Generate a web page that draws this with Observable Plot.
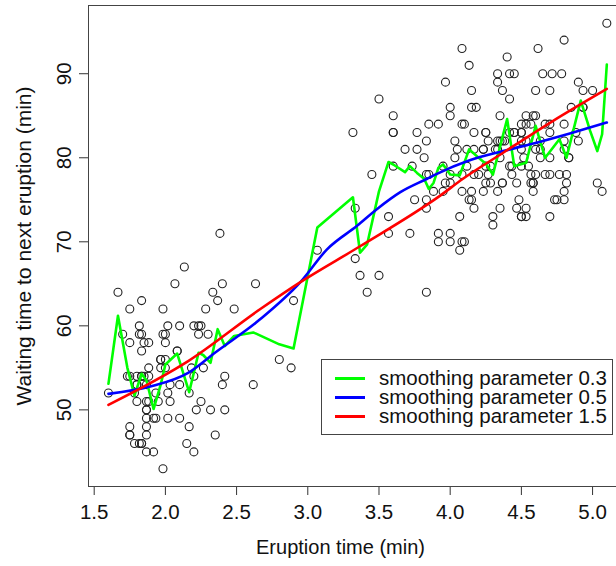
<!DOCTYPE html>
<html>
<head>
<meta charset="utf-8">
<script src="https://cdn.jsdelivr.net/npm/d3@7"></script>
<script src="https://cdn.jsdelivr.net/npm/@observablehq/plot@0.6"></script>
<style>
  html, body { margin: 0; padding: 0; background: #fff; }
  #wrap { position: relative; width: 616px; height: 566px; font-family: "Liberation Sans", Arial, Helvetica, sans-serif; }
  #legend { position: absolute; left: 321px; top: 359px; width: 290px; height: 74px; border: 1px solid #444; background: #fff; box-sizing: content-box; }
  .row { position: absolute; left: 0; height: 19px; line-height: 19px; font-size: 20.5px; color: #111; white-space: nowrap; }
  .sw { position: absolute; left: 13px; top: 9px; width: 30px; height: 2.6px; }
  .lab { position: absolute; left: 57px; top: 0; }
</style>
</head>
<body>
<div id="wrap"></div>
<script>
// Old Faithful: eruption time (min) and waiting time to next eruption (min)
const eruptions = [
3.600,1.800,3.333,2.283,4.533,2.883,4.700,3.600,1.950,4.350,
1.833,3.917,4.200,1.750,4.700,2.167,1.750,4.800,1.600,4.250,
1.800,1.750,3.450,3.067,4.533,3.600,1.967,4.083,3.850,4.433,
4.300,4.467,3.367,4.033,3.833,2.017,1.867,4.833,1.833,4.783,
4.350,1.883,4.567,1.750,4.533,3.317,3.833,2.100,4.633,2.000,
4.800,4.716,1.833,4.833,1.733,4.883,3.717,1.667,4.567,4.317,
2.233,4.500,1.750,4.800,1.817,4.400,4.167,4.700,2.067,4.700,
4.033,1.967,4.500,4.000,1.983,5.067,2.017,4.567,3.883,3.600,
4.133,4.333,4.100,2.633,4.067,4.933,3.950,4.517,2.167,4.000,
2.200,4.333,1.867,4.817,1.833,4.300,4.667,3.750,1.867,4.900,
2.483,4.367,2.100,4.500,4.050,1.867,4.700,1.783,4.850,3.683,
4.733,2.300,4.900,4.417,1.700,4.633,2.317,4.600,1.817,4.417,
2.617,4.067,4.250,1.967,4.600,3.767,1.917,4.500,2.267,4.650,
1.867,4.167,2.800,4.333,1.833,4.383,1.883,4.933,2.033,3.733,
4.233,2.233,4.533,4.817,4.333,1.983,4.633,2.017,5.100,1.800,
5.033,4.000,2.400,4.600,3.567,4.000,4.500,4.083,1.800,3.967,
2.200,4.150,2.000,3.833,3.500,4.583,2.367,5.000,1.933,4.617,
1.917,2.083,4.583,3.333,4.167,4.333,4.500,2.417,4.000,4.167,
1.883,4.583,4.250,3.767,2.033,4.433,4.083,1.833,4.417,2.183,
4.800,1.833,4.800,4.100,3.966,4.233,3.500,4.366,2.250,4.667,
2.100,4.350,4.133,1.867,4.600,1.783,4.367,3.850,1.933,4.500,
2.383,4.700,1.867,3.833,3.417,4.233,2.400,4.800,2.000,4.150,
1.867,4.267,1.750,4.483,4.000,4.117,4.083,4.267,3.917,4.550,
4.083,2.417,4.183,2.217,4.450,1.883,1.850,4.283,3.950,2.333,
4.150,2.350,4.933,2.900,4.583,3.833,2.083,4.367,2.133,4.350,
2.200,4.450,3.567,4.500,4.150,3.817,3.917,4.450,2.000,4.283,
4.767,4.533,1.850,4.250,1.983,2.250,4.750,4.117,2.150,4.417,
1.817,4.467];
const waiting = [
79,54,74,62,85,55,88,85,51,85,
54,84,78,47,83,52,62,84,52,79,
51,47,78,69,74,83,55,76,78,79,
73,77,66,80,74,52,48,80,59,90,
80,58,84,58,73,83,64,53,82,59,
75,90,54,80,54,83,71,64,77,81,
59,84,48,82,60,92,78,78,65,73,
82,56,79,71,62,76,60,78,76,83,
75,82,70,65,73,88,76,80,48,86,
60,90,50,78,63,72,84,75,51,82,
62,88,49,83,81,47,84,52,86,81,
75,59,89,79,59,81,50,85,59,87,
53,69,77,56,88,81,45,82,55,90,
45,83,56,89,46,82,51,86,53,79,
81,60,82,77,76,59,80,49,96,53,
77,77,65,81,71,70,81,93,53,89,
45,86,58,78,66,76,63,88,52,93,
49,57,77,68,81,81,73,50,85,74,
55,77,83,83,51,78,84,46,83,55,
81,57,76,84,77,81,87,77,51,78,
60,82,91,53,78,46,77,84,49,83,
71,80,49,75,64,76,53,94,55,76,
50,82,54,75,78,79,78,78,70,79,
70,54,86,50,90,54,54,77,79,64,
75,47,86,63,85,82,57,82,67,74,
54,83,73,73,88,80,71,83,56,79,
78,84,58,83,43,60,75,81,46,90,
46,74];

// Smoothed curves
const green03X = [1.600,1.667,1.733,1.783,1.833,1.867,1.917,1.967,2.000,2.083,2.167,2.233,2.267,2.317,2.367,2.417,2.483,2.617,2.633,2.800,2.900,3.067,3.317,3.367,3.417,3.500,3.567,3.600,3.683,3.717,3.767,3.817,3.850,3.883,3.917,3.950,4.000,4.067,4.133,4.200,4.250,4.300,4.400,4.450,4.533,4.600,4.667,4.767,4.817,4.917,4.983,5.033,5.067,5.100];
const green03Y = [53.1,61.2,55.0,51.7,54.3,53.5,50.1,53.0,55.4,56.7,52.1,56.8,56.5,55.6,59.6,57.6,58.8,59.2,59.1,57.8,57.3,71.7,75.3,68.7,69.7,76.0,79.5,79.2,78.3,79.0,78.2,77.5,76.3,77.0,78.8,79.2,78.0,77.9,81.0,80.0,79.3,78.0,84.6,79.0,79.4,83.8,80.0,82.2,80.0,86.8,83.2,80.8,82.8,91.1];
const blue05X = [1.600,1.900,2.160,2.348,2.667,2.948,3.135,3.346,3.487,3.650,3.838,3.903,4.137,4.372,4.606,4.840,5.100];
const blue05Y = [51.9,52.8,54.4,56.8,60.8,65.2,69.1,71.9,73.9,75.9,77.5,78.05,79.7,80.8,81.8,82.9,84.2];
const red15X = [1.600,2.160,2.667,2.948,3.370,3.930,4.090,4.372,4.723,5.100];
const red15Y = [50.6,55.8,62.0,65.2,69.5,75.5,77.5,80.6,84.4,88.2];

const xTicks = [1.5,2.0,2.5,3.0,3.5,4.0,4.5,5.0];
const yTicks = [50,60,70,80,90];
const xTitle = "Eruption time (min)";
const yTitle = "Waiting time to next eruption (min)";
const seriesNames = ["smoothing parameter 0.3","smoothing parameter 0.5","smoothing parameter 1.5"];
const seriesColors = ["#00ff00","#0000ff","#ff0000"];

const points = eruptions.map((e,i)=>({x:e, y:waiting[i]}));
const mk = (xs, ys) => xs.map((x,i)=>({x, y: ys[i]}));
const gData = mk(green03X, green03Y), bData = mk(blue05X, blue05Y), rData = mk(red15X, red15Y);

const chart = Plot.plot({
  width: 616, height: 566,
  marginLeft: 88, marginRight: 0, marginTop: 5, marginBottom: 80,
  x: {domain: [1.46, 5.168]},
  y: {domain: [40.88, 98.12]},
  style: {fontFamily: '"Liberation Sans", Arial, Helvetica, sans-serif', fontSize: "20px", color: "#111", background: "#fff", overflow: "visible"},
  marks: [
    Plot.axisX({ticks: xTicks, tickSize: 9, tickPadding: 9, tickFormat: d => d.toFixed(1), label: null, stroke: "#333", fill: "#111", fontSize: 20.5}),
    Plot.axisY({ticks: yTicks, tickSize: 9, tickPadding: 9, tickRotate: -90, label: null, stroke: "#333", fill: "#111", fontSize: 20.5}),
    Plot.frame({anchor: "left", stroke: "#444"}),
    Plot.frame({anchor: "top", stroke: "#444"}),
    Plot.frame({anchor: "bottom", stroke: "#444"}),
    Plot.dot(points, {x: "x", y: "y", r: 4, stroke: "#222", strokeWidth: 1.1, fill: "none"}),
    Plot.line(gData, {x: "x", y: "y", stroke: seriesColors[0], strokeWidth: 2.6}),
    Plot.line(bData, {x: "x", y: "y", stroke: seriesColors[1], strokeWidth: 2.6, curve: "monotone-x"}),
    Plot.line(rData, {x: "x", y: "y", stroke: seriesColors[2], strokeWidth: 2.6, curve: "monotone-x"}),
    Plot.text([xTitle], {frameAnchor: "bottom", textAnchor: "middle", dx: -12, dy: 67, text: d => d, fontSize: 20, fill: "#111"}),
    Plot.text([yTitle], {frameAnchor: "left", textAnchor: "middle", dx: -64, rotate: -90, text: d => d, fontSize: 21, fill: "#111"})
  ]
});

const wrap = document.getElementById("wrap");
wrap.appendChild(chart);

const legend = document.createElement("div");
legend.id = "legend";
seriesNames.forEach((name, i) => {
  const row = document.createElement("div");
  row.className = "row";
  row.style.top = (8 + i * 19) + "px";
  const sw = document.createElement("span");
  sw.className = "sw";
  sw.style.background = seriesColors[i];
  const lab = document.createElement("span");
  lab.className = "lab";
  lab.textContent = name;
  row.appendChild(sw);
  row.appendChild(lab);
  legend.appendChild(row);
});
wrap.appendChild(legend);
</script>
</body>
</html>
